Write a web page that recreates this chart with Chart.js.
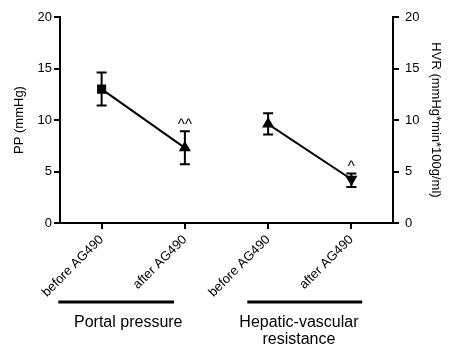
<!DOCTYPE html>
<html>
<head>
<meta charset="utf-8">
<script src="https://cdn.jsdelivr.net/npm/chart.js@4"></script>
<style>
  html, body { margin: 0; padding: 0; background: #fff; }
  #wrap { width: 449px; height: 347px; }
</style>
</head>
<body>
<div id="wrap"><canvas id="chart" width="449" height="347"></canvas></div>
<script>
'use strict';

// categories and values
var categories = ['before AG490', 'after AG490', 'before AG490', 'after AG490'];
var ppMean = [13.0, 7.3, null, null];
var ppLow = [11.4, 5.7, null, null];
var ppHigh = [14.6, 8.9, null, null];
var hvrMean = [null, null, 9.6, 4.25];
var hvrLow = [null, null, 8.6, 3.5];
var hvrHigh = [null, null, 10.65, 4.8];
var yTicks = [0, 5, 10, 15, 20];
var sigMarks = ['', '^^', '', '^'];
var groups = ['Portal pressure', 'Hepatic-vascular\nresistance'];
var groupSpan = [[-0.52, 0.87], [1.75, 3.13]];
var groupTextCenter = [0.32, 2.37];

var FONT = 'Liberation Sans, Arial, sans-serif';

// error bars, significance marks and group labels
var extras = {
  id: 'extras',
  afterDatasetsDraw: function (chart) {
    var c = chart.ctx;
    var sets = [
      { idx: 0, axis: 'y', lo: ppLow, hi: ppHigh },
      { idx: 1, axis: 'y2', lo: hvrLow, hi: hvrHigh }
    ];
    c.save();
    c.strokeStyle = '#000';
    c.lineWidth = 2;
    sets.forEach(function (s) {
      var meta = chart.getDatasetMeta(s.idx);
      var ys = chart.scales[s.axis];
      meta.data.forEach(function (pt, i) {
        if (s.lo[i] == null) return;
        var x = pt.x;
        var yl = ys.getPixelForValue(s.lo[i]);
        var yh = ys.getPixelForValue(s.hi[i]);
        c.beginPath();
        c.moveTo(x, yl); c.lineTo(x, yh);
        c.moveTo(x - 5, yl); c.lineTo(x + 5, yl);
        c.moveTo(x - 5, yh); c.lineTo(x + 5, yh);
        c.stroke();
        if (sigMarks[i]) {
          c.fillStyle = '#000';
          c.font = '15px ' + FONT;
          c.textAlign = 'center';
          c.textBaseline = 'bottom';
          c.fillText(sigMarks[i], x, yh + 1);
        }
      });
    });
    c.restore();
  },
  afterDraw: function (chart) {
    var c = chart.ctx;
    var xs = chart.scales.x;
    c.save();
    c.strokeStyle = '#000';
    c.lineWidth = 3;
    c.fillStyle = '#000';
    c.font = '16px ' + FONT;
    c.textAlign = 'center';
    c.textBaseline = 'middle';
    groups.forEach(function (g, k) {
      var x0 = xs.getPixelForDecimal((groupSpan[k][0] + 0.5) / categories.length);
      var x1 = xs.getPixelForDecimal((groupSpan[k][1] + 0.5) / categories.length);
      c.beginPath();
      c.moveTo(x0, 302); c.lineTo(x1, 302);
      c.stroke();
      var cx = xs.getPixelForDecimal((groupTextCenter[k] + 0.5) / categories.length);
      g.split('\n').forEach(function (line, j) {
        c.fillText(line, cx, 323 + j * 17);
      });
    });
    c.restore();
  }
};

var ctx = document.getElementById('chart').getContext('2d');
var chart = new Chart(ctx, {
  type: 'line',
  data: {
    labels: categories,
    datasets: [
      {
        label: 'PP',
        data: ppMean,
        yAxisID: 'y',
        borderColor: '#000',
        backgroundColor: '#000',
        borderWidth: 2,
        pointStyle: ['rect', 'triangle', 'rect', 'rect'],
        pointRadius: [5, 5, 5, 5],
        pointBackgroundColor: '#000',
        pointBorderColor: '#000',
        spanGaps: false
      },
      {
        label: 'HVR',
        data: hvrMean,
        yAxisID: 'y2',
        borderColor: '#000',
        backgroundColor: '#000',
        borderWidth: 2,
        pointStyle: 'triangle',
        pointRotation: [0, 0, 0, 180],
        pointRadius: 5,
        pointBackgroundColor: '#000',
        pointBorderColor: '#000',
        spanGaps: false
      }
    ]
  },
  options: {
    responsive: false,
    animation: false,
    plugins: { legend: { display: false }, tooltip: { enabled: false } },
    layout: { padding: { top: 17, left: 0, right: 0, bottom: 0 } },
    scales: {
      x: {
        type: 'category',
        offset: true,
        grid: { display: true, drawOnChartArea: false, offset: false, color: '#000', lineWidth: 2, tickLength: 6 },
        border: { display: true, color: '#000', width: 2 },
        ticks: { color: '#000', font: { family: FONT, size: 13 }, minRotation: 45, maxRotation: 45, padding: 3 },
        afterFit: function (s) { s.height = 124; }
      },
      y: {
        position: 'left',
        min: 0, max: 20,
        afterBuildTicks: function (s) { s.ticks = yTicks.map(function (v) { return { value: v }; }); },
        grid: { display: true, drawOnChartArea: false, color: '#000', lineWidth: 2, tickLength: 6 },
        border: { display: true, color: '#000', width: 2 },
        ticks: { color: '#000', font: { family: FONT, size: 13 }, padding: 2 },
        title: { display: true, text: 'PP (mmHg)', color: '#000', font: { family: FONT, size: 13 }, padding: { top: 12, bottom: 4 } },
        afterFit: function (s) { s.width = 60; }
      },
      y2: {
        position: 'right',
        min: 0, max: 20,
        afterBuildTicks: function (s) { s.ticks = yTicks.map(function (v) { return { value: v }; }); },
        grid: { display: true, drawOnChartArea: false, color: '#000', lineWidth: 2, tickLength: 6 },
        border: { display: true, color: '#000', width: 2 },
        ticks: { color: '#000', font: { family: FONT, size: 13 }, padding: 6 },
        title: { display: true, text: 'HVR (mmHg*min*100g/ml)', color: '#000', font: { family: FONT, size: 13 }, padding: { top: 6, bottom: 4 } },
        afterFit: function (s) { s.width = 56; }
      }
    }
  },
  plugins: [extras]
});
</script>
</body>
</html>
